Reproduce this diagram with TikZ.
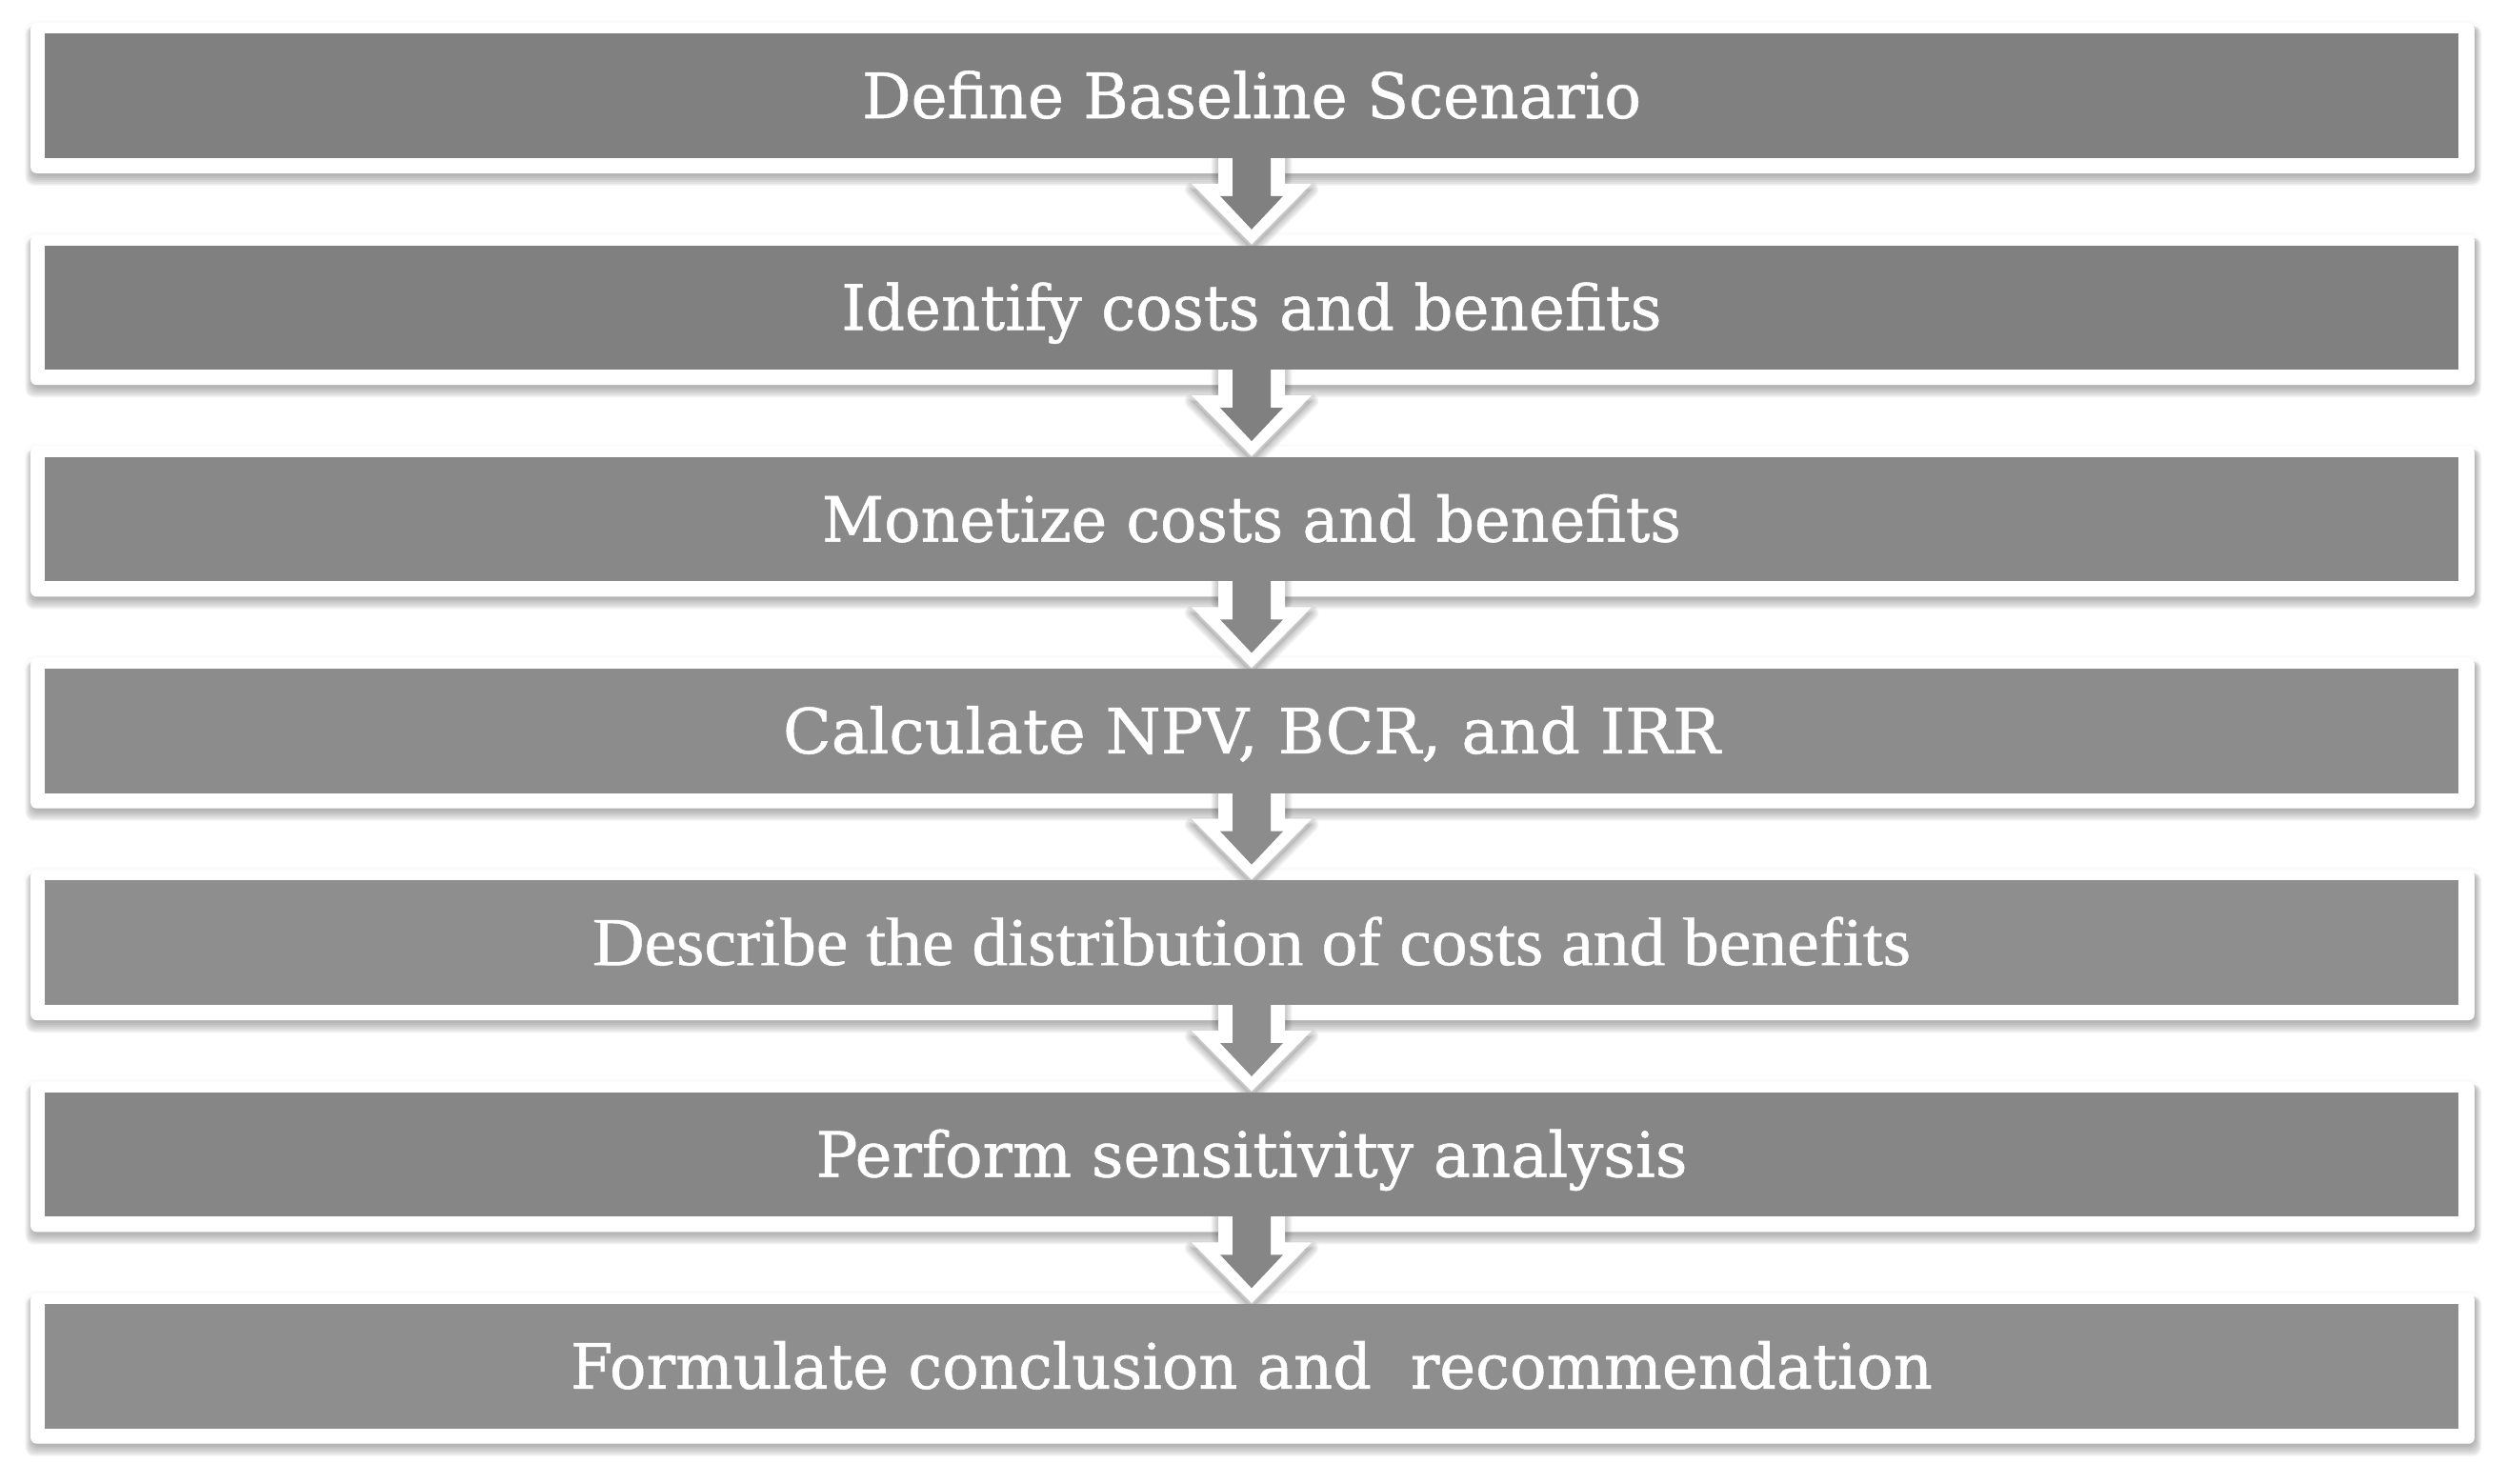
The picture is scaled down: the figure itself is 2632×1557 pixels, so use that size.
\documentclass[tikz,border=0pt]{standalone}
\usepackage{fontspec}
\setmainfont{DejaVu Serif}[FakeBold=0.8]
\newfontfamily\altserif{Liberation Serif}[FakeBold=0.6]
\newsavebox\fitbox
\newcommand\fittext[2]{\sbox\fitbox{#2}\scalebox{\fpeval{(#1)/(\the\wd\fitbox)}}[1]{\usebox\fitbox}}
\newcommand\arrowouter[3]{([shift={(-35,-10+#3)}]b#1.south) -- ([shift={(-35,27+#3)}]b#1.south) -- ([shift={(-63,27+#3)}]b#1.south) -- ([shift={(0,-1+#3)}]b#2.north) -- ([shift={(63,27+#3)}]b#1.south) -- ([shift={(35,27+#3)}]b#1.south) -- ([shift={(35,-10+#3)}]b#1.south) -- cycle}
\newcommand\arrowinner[1]{([shift={(-20,-10)}]b#1.south) -- ([shift={(-20,40)}]b#1.south) -- ([shift={(-33,40)}]b#1.south) -- ([shift={(0,75)}]b#1.south) -- ([shift={(33,40)}]b#1.south) -- ([shift={(20,40)}]b#1.south) -- ([shift={(20,-10)}]b#1.south) -- cycle}
\definecolor{bc1}{gray}{0.50}
\definecolor{bc2}{gray}{0.50}
\definecolor{bc3}{gray}{0.535}
\definecolor{bc4}{gray}{0.55}
\definecolor{bc5}{gray}{0.555}
\definecolor{bc6}{gray}{0.525}
\definecolor{bc7}{gray}{0.555}
\begin{document}
\begin{tikzpicture}[x=0.25pt,y=-0.25pt,
  boxshape/.style={draw=none, inner sep=0pt, minimum width=633pt, minimum height=32.25pt},
  steptext/.style={text=white, inner sep=0pt, text height=14pt, text depth=2.25pt, font=\fontsize{16.4}{18}\selectfont},
  shade/.style={fill=black, opacity=0.05},
  frame/.style={fill=white, rounded corners=1.5pt}
]
\useasboundingbox (0,0) rectangle (2632,1557);
\fill[white] (0,0) rectangle (2632,1557);

% box geometry
\node[boxshape] (b1) at (1314, 100.5) {};
\node[boxshape] (b2) at (1314, 322.8) {};
\node[boxshape] (b3) at (1314, 545.1) {};
\node[boxshape] (b4) at (1314, 767.4) {};
\node[boxshape] (b5) at (1314, 989.7) {};
\node[boxshape] (b6) at (1314, 1212.0) {};
\node[boxshape] (b7) at (1314, 1434.3) {};

% white frames with soft shadow
\foreach \i in {1,...,7}{
  \fill[black, opacity=0.015, rounded corners=3pt] ([shift={(-22,-14)}]b\i.north west) rectangle ([shift={(24,28)}]b\i.south east);
  \foreach \e in {0,2,4,6,8,10}{
    \fill[shade, rounded corners=2pt] ([shift={(-15-\e*0.6+1,-8)}]b\i.north west) rectangle ([shift={(17+\e*0.6+1,16+\e+3)}]b\i.south east);
  }
  \path[frame] ([shift={(-15,-11)}]b\i.north west) rectangle ([shift={(17,16)}]b\i.south east);
}

% block arrows
\foreach \i/\j in {1/2,2/3,3/4,4/5,5/6,6/7}{
  \fill[black, opacity=0.08] \arrowouter{\i}{\j}{6};
  \foreach \w in {0.75pt,1.5pt,2.25pt,3pt,3.75pt}{
    \draw[black, opacity=0.045, line width=\w, line join=round] \arrowouter{\i}{\j}{6};
  }
  \fill[white] \arrowouter{\i}{\j}{0};
  \fill[bc\i] \arrowinner{\i};
}

% grey step boxes and their texts
\foreach \i in {1,...,7}{
  \fill[bc\i] (b\i.north west) rectangle (b\i.south east);
}
\node[steptext] (t1) at (b1) {\fittext{204.5pt}{Define Baseline Scenario}};
\node[steptext] (t2) at (b2) {\fittext{215.3pt}{Identify costs and benefits}};
\node[steptext] (t3) at (b3) {\fittext{225.5pt}{Monetize costs and benefits}};
\node[steptext] (t4) at (b4) {\fittext{246pt}{Calculate NPV, BCR, and IRR}};
\node[steptext] (t5) at (b5) {\fittext{346pt}{\altserif\fontsize{18}{20}\selectfont Describe the distribution of costs and benefits}};
\node[steptext] (t6) at (b6) {\fittext{228.8pt}{Perform sensitivity analysis}};
\node[steptext] (t7) at (b7) {\fittext{357.5pt}{Formulate conclusion and\ \ recommendation}};
\end{tikzpicture}
\end{document}
